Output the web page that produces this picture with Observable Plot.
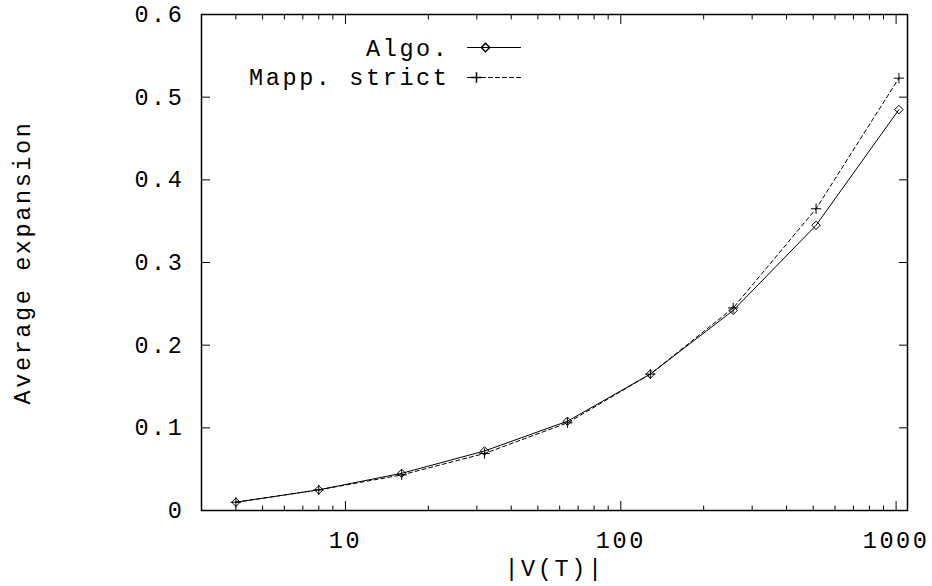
<!DOCTYPE html>
<html><head><meta charset="utf-8">
<script src="https://cdn.jsdelivr.net/npm/d3@7"></script>
<script src="https://cdn.jsdelivr.net/npm/@observablehq/plot@0.6"></script>
<style>
body{margin:0;background:#fff}
#chart svg text{letter-spacing:2.6px}
</style>
</head><body><div id="chart"></div>
<script>
const sizes = [4, 8, 16, 32, 64, 128, 256, 512, 1024];
const algo = [0.010, 0.025, 0.045, 0.072, 0.108, 0.165, 0.242, 0.345, 0.485];
const mappStrict = [0.010, 0.025, 0.043, 0.069, 0.106, 0.165, 0.245, 0.365, 0.523];
const seriesNames = ["Algo.", "Mapp. strict"];
const xMajorTicks = [10, 100, 1000];
const xMinorTicks = [4, 5, 6, 7, 8, 9, 20, 30, 40, 50, 60, 70, 80, 90, 200, 300, 400, 500, 600, 700, 800, 900];
const yTicks = [0, 0.1, 0.2, 0.3, 0.4, 0.5, 0.6];
const xLabel = "|V(T)|";
const yLabel = "Average expansion";

const algoData = sizes.map((s, i) => ({x: s, y: algo[i]}));
const mappData = sizes.map((s, i) => ({x: s, y: mappStrict[i]}));

const lineShape = {draw(ctx, l) { ctx.moveTo(0, 0); ctx.lineTo(0, -l); }};
const font = "Liberation Mono, Courier New, monospace";

const chart = Plot.plot({
  width: 932,
  height: 586,
  marginLeft: 201,
  marginRight: 25,
  marginTop: 14,
  marginBottom: 76,
  style: {fontFamily: font, fontSize: "23.5px", color: "black", background: "white"},
  x: {type: "log", domain: [3, 1100]},
  y: {domain: [0, 0.6]},
  marks: [
    // inward ticks on all sides
    Plot.axisX({ticks: xMajorTicks, anchor: "bottom", tickSize: -9, fill: "none", label: null}),
    Plot.axisX({ticks: xMinorTicks, anchor: "bottom", tickSize: -4.5, fill: "none", label: null}),
    Plot.axisX({ticks: xMajorTicks, anchor: "top", tickSize: -9, fill: "none", label: null}),
    Plot.axisX({ticks: xMinorTicks, anchor: "top", tickSize: -4.5, fill: "none", label: null}),
    Plot.axisY({ticks: yTicks, anchor: "left", tickSize: -9, fill: "none", label: null}),
    Plot.axisY({ticks: yTicks, anchor: "right", tickSize: -9, fill: "none", label: null}),
    // tick labels
    Plot.axisX({ticks: xMajorTicks, anchor: "bottom", tickSize: 0, tickPadding: 21, tickFormat: d => String(d), label: null, stroke: "none"}),
    Plot.axisY({ticks: yTicks, anchor: "left", tickSize: 0, tickPadding: 17, tickFormat: d => d === 0 ? "0" : d.toFixed(1), label: null, stroke: "none"}),
    Plot.frame({stroke: "black", strokeWidth: 1.5}),
    // data
    Plot.line(algoData, {x: "x", y: "y", stroke: "black", strokeWidth: 1}),
    Plot.line(mappData, {x: "x", y: "y", stroke: "black", strokeWidth: 1, strokeDasharray: "4,3"}),
    Plot.dot(algoData, {x: "x", y: "y", symbol: "diamond2", r: 3.8, stroke: "black", fill: "none", strokeWidth: 1}),
    Plot.dot(mappData, {x: "x", y: "y", symbol: "plus", r: 3.4, stroke: "black", strokeWidth: 1}),
    // legend
    Plot.text([seriesNames[0]], {text: d => d, frameAnchor: "top-left", dx: 248, dy: 34, textAnchor: "end", lineAnchor: "middle", fill: "black"}),
    Plot.text([seriesNames[1]], {text: d => d, frameAnchor: "top-left", dx: 248, dy: 63, textAnchor: "end", lineAnchor: "middle", fill: "black"}),
    Plot.vector([seriesNames[0]], {frameAnchor: "top-left", dx: 266, dy: 33, length: 53, rotate: 90, anchor: "start", shape: lineShape, stroke: "black", strokeWidth: 1}),
    Plot.vector([seriesNames[1]], {frameAnchor: "top-left", dx: 266, dy: 63, length: 53, rotate: 90, anchor: "start", shape: lineShape, stroke: "black", strokeWidth: 1, strokeDasharray: "4,3"}),
    Plot.dot([seriesNames[0]], {frameAnchor: "top-left", dx: 284, dy: 33, symbol: "diamond2", r: 3.8, stroke: "black", fill: "none"}),
    Plot.dot([seriesNames[1]], {frameAnchor: "top-left", dx: 275, dy: 63, symbol: "plus", r: 3.4, stroke: "black"}),
    // axis titles
    Plot.text([xLabel], {text: d => d, frameAnchor: "bottom", dy: 58, lineAnchor: "middle", textAnchor: "middle", fill: "black"}),
    Plot.text([yLabel], {text: d => d, frameAnchor: "left", dx: -179, rotate: -90, lineAnchor: "middle", textAnchor: "middle", fill: "black"})
  ]
});
document.getElementById("chart").appendChild(chart);
</script>
</body></html>
